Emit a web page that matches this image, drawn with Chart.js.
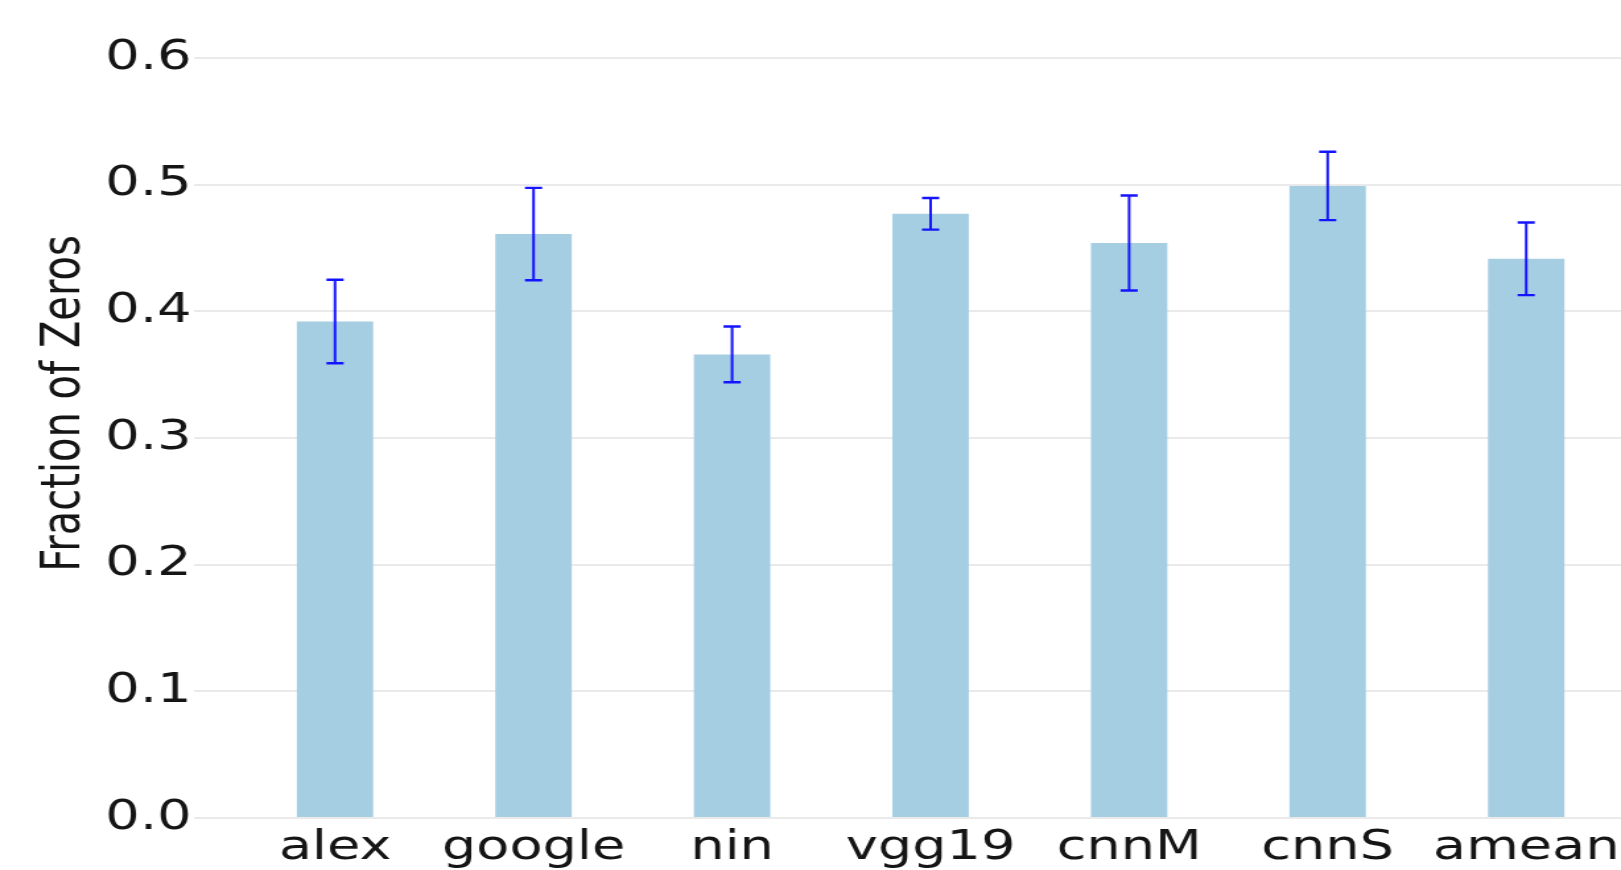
<!DOCTYPE html>
<html>
<head>
<meta charset="utf-8">
<script src="https://cdn.jsdelivr.net/npm/chart.js"></script>
<style>
  html, body { margin: 0; padding: 0; background: #fff; overflow: hidden; width: 1621px; height: 870px; }
  #wrap { position: absolute; left: 0; top: -11px; transform: scaleX(1.32); transform-origin: 0 0; }
</style>
</head>
<body>
<div id="wrap"><canvas id="chart" width="1263" height="885"></canvas></div>
<script>
  // ---- data ----
  const labels = ['alex', 'google', 'nin', 'vgg19', 'cnnM', 'cnnS', 'amean'];
  const fractionZeros = [0.392, 0.461, 0.366, 0.477, 0.454, 0.499, 0.4415];
  const errors = [0.033, 0.0365, 0.022, 0.0125, 0.0375, 0.027, 0.0287];
  const yTicks = [0, 0.1, 0.2, 0.3, 0.4, 0.5, 0.6];

  const textColor = '#151515';
  const fontFamily = '"DejaVu Sans", sans-serif';

  // error bars drawn on top of the bars, through the y scale
  const errorBarPlugin = {
    id: 'errorBars',
    afterDatasetsDraw(chart) {
      const { ctx, scales } = chart;
      const meta = chart.getDatasetMeta(0);
      ctx.save();
      ctx.strokeStyle = '#1414ff';
      meta.data.forEach((bar, i) => {
        const x = bar.x;
        const top = scales.y.getPixelForValue(fractionZeros[i] + errors[i]);
        const bottom = scales.y.getPixelForValue(fractionZeros[i] - errors[i]);
        const cap = 6.5;
        ctx.lineWidth = 2;
        ctx.beginPath();
        ctx.moveTo(x, top);
        ctx.lineTo(x, bottom);
        ctx.stroke();
        ctx.lineWidth = 2.4;
        ctx.beginPath();
        ctx.moveTo(x - cap, top);
        ctx.lineTo(x + cap, top);
        ctx.moveTo(x - cap, bottom);
        ctx.lineTo(x + cap, bottom);
        ctx.stroke();
      });
      ctx.restore();
    }
  };

  new Chart(document.getElementById('chart'), {
    type: 'bar',
    plugins: [errorBarPlugin],
    data: {
      datasets: [{
        data: labels.map((l, i) => ({ x: i, y: fractionZeros[i] })),
        backgroundColor: '#a6cee3',
        borderWidth: 0,
        barPercentage: 0.385,
        categoryPercentage: 1
      }]
    },
    options: {
      responsive: false,
      animation: false,
      devicePixelRatio: 1,
      layout: { padding: 0 },
      plugins: { legend: { display: false }, tooltip: { enabled: false } },
      scales: {
        x: {
          type: 'linear',
          min: -0.71,
          max: 6.71,
          offset: false,
          grid: { display: false, drawTicks: false, offset: false },
          border: { display: false },
          ticks: {
            stepSize: 1,
            includeBounds: false,
            autoSkip: false,
            maxRotation: 0,
            padding: 6,
            color: textColor,
            font: { family: fontFamily, size: 41 },
            callback: v => labels[v] ?? ''
          },
          afterFit(scale) {
            scale.height = 56;
            scale.paddingLeft = 0;
            scale.paddingRight = 0;
          }
        },
        y: {
          min: 0,
          max: 0.6545,
          grid: { color: '#eaeaea', lineWidth: 2, drawTicks: false },
          border: { display: false },
          ticks: {
            stepSize: 0.1,
            includeBounds: false,
            padding: 2,
            color: textColor,
            font: { family: fontFamily, size: 41 },
            callback: v => yTicks.includes(Math.round(v * 10) / 10) ? v.toFixed(1) : ''
          },
          title: {
            display: true,
            text: 'Fraction of Zeros',
            color: textColor,
            padding: { top: 26, bottom: 0 },
            font: { family: fontFamily, size: 40 }
          },
          afterFit(scale) {
            scale.width = 147;
            scale.paddingTop = 0;
            scale.paddingBottom = 0;
          }
        }
      }
    }
  });
</script>
</body>
</html>
